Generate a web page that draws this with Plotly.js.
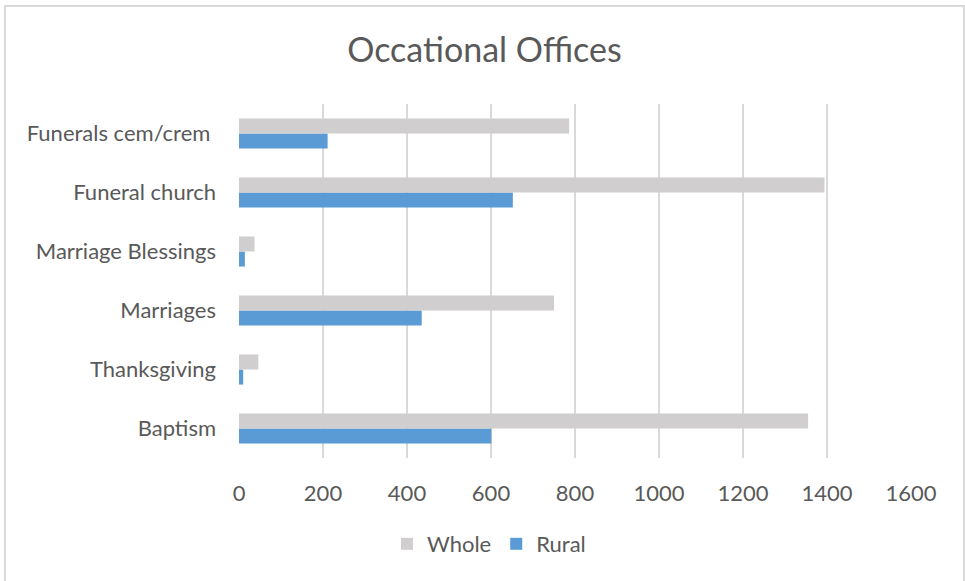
<!DOCTYPE html>
<html>
<head>
<meta charset="utf-8">
<script src="https://cdn.plot.ly/plotly-3.0.1.min.js"></script>
<style>
html,body{margin:0;padding:0;background:#fff;}
#wrap{position:relative;width:965px;height:581px;overflow:hidden;}
#frame{position:absolute;left:4px;top:5px;width:961px;height:580px;border:2px solid #d9d9d9;box-sizing:border-box;pointer-events:none;z-index:5;}
#chart{position:absolute;left:0;top:0;width:965px;height:581px;}
</style>
</head>
<body>
<div id="wrap"><div id="chart"></div><div id="frame"></div></div>
<script>
const categories = ["Baptism", "Thanksgiving", "Marriages", "Marriage Blessings", "Funeral church", "Funerals cem/crem "];
const wholeValues = [1355, 46, 750, 37, 1394, 786];
const ruralValues = [601, 10, 435, 14, 652, 211];
const xTicks = [0, 200, 400, 600, 800, 1000, 1200, 1400, 1600];

const font = "Lato, 'Open Sans', sans-serif";
const traces = [
  {type: "bar", orientation: "h", name: "Rural", y: categories, x: ruralValues,
   marker: {color: "#5b9bd5"}, legendrank: 2, hoverinfo: "x+name"},
  {type: "bar", orientation: "h", name: "Whole", y: categories, x: wholeValues,
   marker: {color: "#d0cece"}, legendrank: 1, hoverinfo: "x+name"}
];
const layout = {
  width: 965, height: 581,
  margin: {l: 239, r: 54, t: 104, b: 123},
  paper_bgcolor: "#fff", plot_bgcolor: "#fff",
  font: {family: font, color: "#595959", size: 22},
  title: {text: "Occational Offices", x: 0.502, xref: "container", xanchor: "center",
          y: 1 - 50/581, yref: "container", yanchor: "middle",
          font: {family: font, size: 34, color: "#595959"}},
  barmode: "group", bargap: 0.49, bargroupgap: 0,
  xaxis: {range: [0, 1600], tickvals: xTicks, ticktext: xTicks.map(String),
          showgrid: true, gridcolor: "#d9d9d9", gridwidth: 1.5, zeroline: false,
          showline: false, ticks: "", ticklabelstandoff: 20,
          tickfont: {family: font, size: 22, color: "#595959"}, fixedrange: true},
  yaxis: {type: "category", categoryorder: "array", categoryarray: categories,
          showgrid: false, zeroline: false, showline: false, ticks: "",
          ticklabelstandoff: 22,
          tickfont: {family: font, size: 22, color: "#595959"}, fixedrange: true},
  showlegend: true,
  legend: {orientation: "h", x: 0.372, xanchor: "center", y: -0.243, yanchor: "middle",
           font: {family: font, size: 22, color: "#595959"}, traceorder: "normal"}
};
Plotly.newPlot("chart", traces, layout, {displayModeBar: false, staticPlot: true});
</script>
</body>
</html>
